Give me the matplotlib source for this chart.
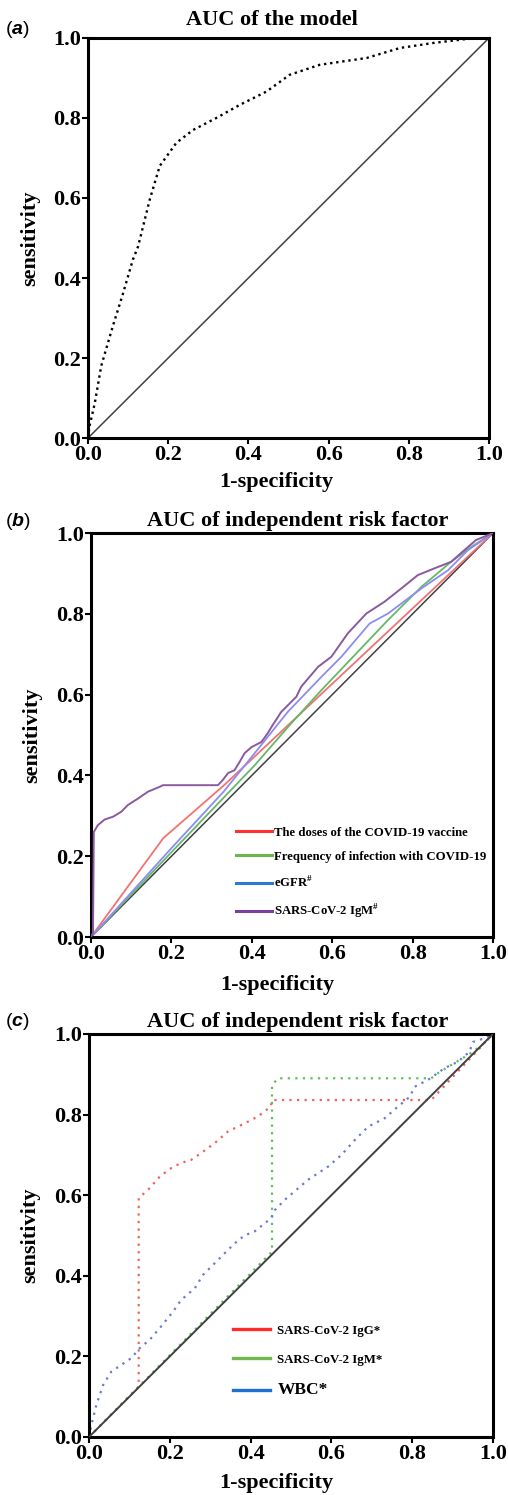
import matplotlib
matplotlib.use('Agg')
import matplotlib.pyplot as plt
from matplotlib.lines import Line2D

plt.rcParams['font.family'] = 'Liberation Serif'
plt.rcParams['font.weight'] = 'bold'
plt.rcParams['mathtext.fontset'] = 'custom'
plt.rcParams['mathtext.rm'] = 'Liberation Serif:bold'
plt.rcParams['mathtext.bf'] = 'Liberation Serif:bold'
plt.rcParams['mathtext.it'] = 'Liberation Sans:italic'

ticks = [0.0, 0.2, 0.4, 0.6, 0.8, 1.0]
tick_labels = ['0.0', '0.2', '0.4', '0.6', '0.8', '1.0']

# (a) model ROC
a_fpr = [0, 0.004, 0.017, 0.033, 0.062, 0.087, 0.112, 0.125, 0.154, 0.179, 0.22, 0.262,
         0.32, 0.379, 0.445, 0.503, 0.578, 0.695, 0.778, 0.861, 0.944, 1.0]
a_tpr = [0, 0.03, 0.0875, 0.18, 0.28, 0.36, 0.446, 0.479, 0.596, 0.68, 0.7375, 0.77,
         0.80, 0.833, 0.866, 0.908, 0.933, 0.95, 0.975, 0.9875, 0.9975, 1.0]

# (b) independent risk factors
b_labels = ['The doses of the COVID-19 vaccine', 'Frequency of infection with COVID-19',
            'eGFR$^{\\#}$', 'SARS-CoV-2 IgM$^{\\#}$']
b_red_x = [0, 0.18, 0.33, 1.0]
b_red_y = [0, 0.245, 0.375, 1.0]
b_green_x = [0, 0.2, 0.407, 0.49, 0.573, 0.656, 0.739, 0.822, 0.896, 0.946, 1.0]
b_green_y = [0, 0.21, 0.425, 0.52, 0.611, 0.698, 0.785, 0.867, 0.929, 0.966, 1.0]
b_blue_x = [0, 0.2, 0.33, 0.407, 0.49, 0.573, 0.623, 0.693, 0.739, 0.822, 0.888, 0.938, 1.0]
b_blue_y = [0, 0.22, 0.36, 0.455, 0.558, 0.644, 0.694, 0.776, 0.801, 0.863, 0.908, 0.958, 1.0]
b_purple_x = [0, 0.005, 0.007, 0.017, 0.034, 0.055, 0.075, 0.092, 0.117, 0.142, 0.171, 0.179,
              0.316, 0.328, 0.341, 0.357, 0.37, 0.382, 0.399, 0.424, 0.44, 0.449, 0.473, 0.49,
              0.511, 0.523, 0.565, 0.598, 0.639, 0.685, 0.73, 0.772, 0.813, 0.855, 0.896,
              0.929, 0.958, 1.0]
b_purple_y = [0, 0.01, 0.26, 0.277, 0.291, 0.298, 0.31, 0.327, 0.343, 0.36, 0.372, 0.376,
              0.376, 0.389, 0.406, 0.413, 0.434, 0.455, 0.47, 0.483, 0.505, 0.52, 0.557, 0.574,
              0.595, 0.62, 0.669, 0.694, 0.752, 0.801, 0.83, 0.863, 0.896, 0.913, 0.929,
              0.958, 0.983, 1.0]

# (c) antibodies and WBC
c_labels = ['SARS-CoV-2 IgG*', 'SARS-CoV-2 IgM*', 'WBC*']
c_red_x = [0, 0.123, 0.123, 0.146, 0.175, 0.203, 0.228, 0.252, 0.277, 0.311, 0.344, 0.385,
           0.418, 0.45, 0.453, 0.847, 1.0]
c_red_y = [0, 0.125, 0.593, 0.613, 0.646, 0.667, 0.68, 0.687, 0.704, 0.729, 0.758, 0.778,
           0.795, 0.82, 0.836, 0.836, 1.0]
c_green_x = [0, 0.453, 0.453, 0.468, 0.847, 0.864, 0.905, 0.946, 0.979, 1.0]
c_green_y = [0, 0.46, 0.873, 0.89, 0.89, 0.903, 0.928, 0.953, 0.977, 1.0]
c_blue_x = [0, 0.006, 0.018, 0.035, 0.055, 0.08, 0.105, 0.125, 0.15, 0.175, 0.208, 0.228,
            0.262, 0.282, 0.307, 0.332, 0.36, 0.385, 0.41, 0.451, 0.46, 0.484, 0.513, 0.542,
            0.592, 0.625, 0.658, 0.691, 0.732, 0.765, 0.794, 0.806, 0.839, 0.88, 0.913,
            0.942, 0.95, 0.967, 1.0]
c_blue_y = [0, 0.03, 0.079, 0.129, 0.162, 0.179, 0.196, 0.22, 0.241, 0.27, 0.311, 0.34,
            0.369, 0.402, 0.427, 0.452, 0.48, 0.50, 0.51, 0.543, 0.563, 0.588, 0.613, 0.638,
            0.671, 0.70, 0.737, 0.77, 0.791, 0.82, 0.844, 0.869, 0.886, 0.915, 0.931,
            0.956, 0.98, 0.985, 1.0]


def style_axes(ax, title, title_x, title_pad, xlabel_x, xlabel_y, diag_z=1, diag_lw=1.1):
    ax.set_xlim(0, 1)
    ax.set_ylim(0, 1)
    ax.plot([0, 1], [0, 1], color='#404040', lw=diag_lw, zorder=diag_z)
    for s in ax.spines.values():
        s.set_linewidth(2.2)
    ax.set_xticks(ticks)
    ax.set_xticklabels(tick_labels)
    ax.set_yticks(ticks)
    ax.set_yticklabels(tick_labels)
    ax.tick_params(direction='out', length=4, width=1.5, labelsize=16, pad=1)
    ax.set_title(title, fontsize=16, fontweight='bold', x=title_x, pad=title_pad)
    ax.set_xlabel('1-specificity', fontsize=16, fontweight='bold')
    ax.xaxis.set_label_coords(xlabel_x, xlabel_y)
    ax.set_ylabel('sensitivity', fontsize=16, fontweight='bold')
    ax.yaxis.set_label_coords(-0.12, 0.5)


fig = plt.figure(figsize=(5.08, 14.95), dpi=100)

# panel a
ax1 = fig.add_axes([0.1732, 0.7070, 0.7894, 0.2676])
style_axes(ax1, 'AUC of the model', 0.459, 9, 0.469, -0.085)
ax1.plot(a_fpr, a_tpr, color='black', lw=1.7, linestyle=(0, (1, 1.6)), zorder=2)

# panel b
ax2 = fig.add_axes([0.1791, 0.3732, 0.7913, 0.2702])
style_axes(ax2, 'AUC of independent risk factor', 0.515, 5, 0.464, -0.093)
ax2.plot(b_red_x, b_red_y, color='#f27272', lw=1.3, zorder=2)
ax2.plot(b_green_x, b_green_y, color='#66b866', lw=1.3, zorder=2)
ax2.plot(b_blue_x, b_blue_y, color='#8c8cf5', lw=1.3, zorder=2)
ax2.plot(b_purple_x, b_purple_y, color='#8a5a9e', lw=1.4, zorder=3)
b_handles = [Line2D([0], [0], color=c, lw=2.2) for c in ['#ff3030', '#6cb64e', '#2a7ad6', '#7a3fa0']]
ax2.legend(b_handles, b_labels, loc='center left', bbox_to_anchor=(0.36, 0.157),
           frameon=False, fontsize=9.2, handlelength=2.85, handletextpad=0.12,
           labelspacing=0.95, borderpad=0, borderaxespad=0)

# panel c
ax3 = fig.add_axes([0.1752, 0.0388, 0.7953, 0.2696])
style_axes(ax3, 'AUC of independent risk factor', 0.516, 5, 0.463, -0.09, diag_z=4, diag_lw=1.4)
ax3.plot(c_red_x, c_red_y, color='#f06060', lw=1.6, linestyle=(0, (1, 2.4)), zorder=2)
ax3.plot(c_green_x, c_green_y, color='#5cc05c', lw=1.6, linestyle=(0, (1, 2.4)), zorder=2)
ax3.plot(c_blue_x, c_blue_y, color='#6a78d6', lw=1.6, linestyle=(0, (1, 2.4)), zorder=2)
c_handles = [Line2D([0], [0], color=c, lw=2.4) for c in ['#ff2a2a', '#72b84e', '#1f6fd0']]
leg = ax3.legend(c_handles, c_labels, loc='center left', bbox_to_anchor=(0.356, 0.187),
                 frameon=False, fontsize=9.3, handlelength=2.9, handletextpad=0.55,
                 labelspacing=1.3, borderpad=0, borderaxespad=0)
leg.get_texts()[2].set_fontsize(12.5)

# panel letters
for lab, ypix in [('a', 30), ('b', 522), ('c', 1022)]:
    fig.text(5 / 508, 1 - ypix / 1495, '($\\mathit{' + lab + '}$)', fontsize=14,
             family='Liberation Sans', fontweight='normal', va='center', ha='left')

fig.savefig('out.png', dpi=100)
